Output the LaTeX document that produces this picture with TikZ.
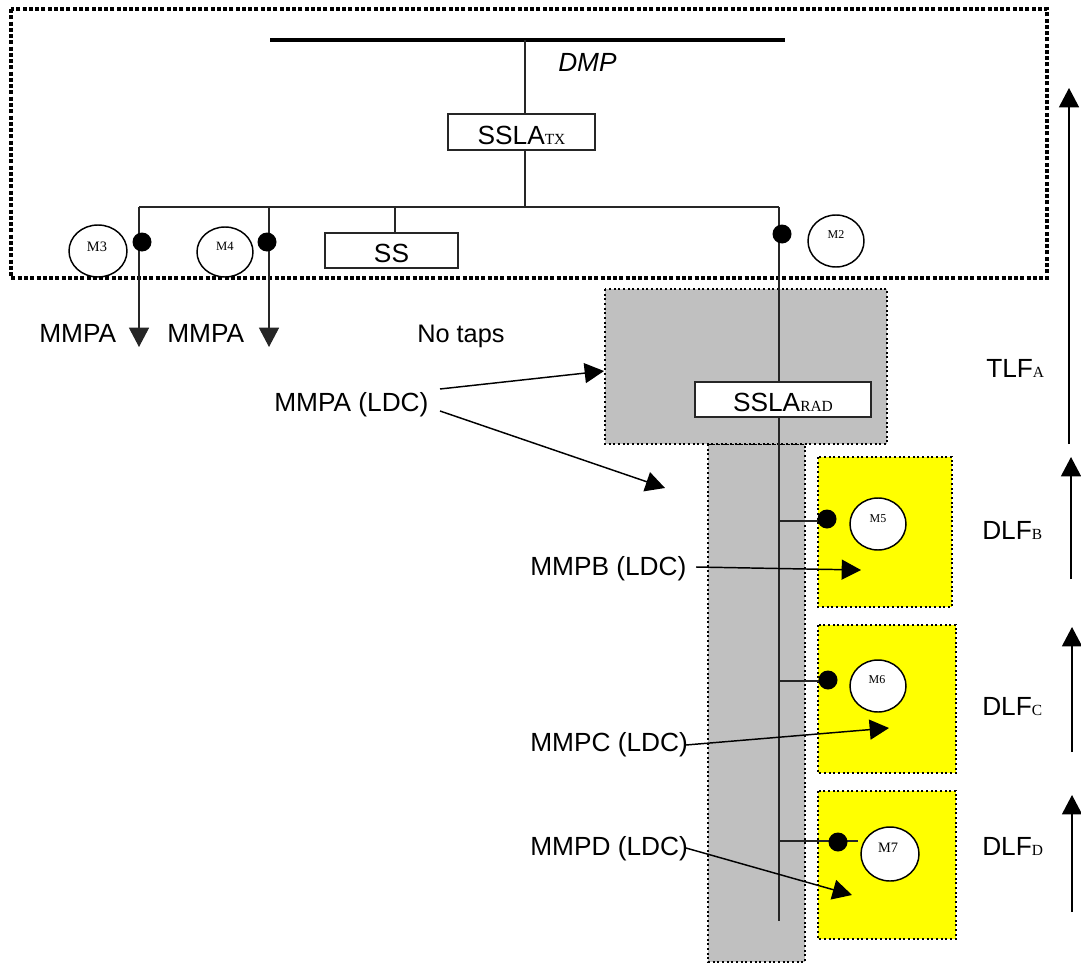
\documentclass[tikz,border=0pt]{standalone}
\usepackage{fontspec}
\setmainfont{Liberation Sans}
\newfontfamily\tmsfont{Liberation Serif}
\usetikzlibrary{arrows.meta,shapes.geometric}
\definecolor{zoneyellow}{RGB}{255,255,0}
\definecolor{zonegrey}{RGB}{192,192,192}
\newcommand{\subf}[1]{{\tmsfont\fontsize{11.6pt}{12pt}\selectfont #1}}
\tikzset{
  x=0.75pt,y=-0.75pt,
  txt/.style={anchor=base west,inner sep=0pt,font=\fontsize{19.7pt}{20pt}\selectfont},
  mtxt/.style={anchor=base,inner sep=0pt,font=\tmsfont\fontsize{#1}{12pt}\selectfont},
  mtxt/.default={9.5pt},
  conn/.style={draw=black!85,line width=1.1pt},
  flow/.style={draw=black,line width=1.1pt,-{Triangle[length=14.5pt,width=15pt]}},
  wbox/.style={draw=black!85,fill=white,line width=1.1pt,inner sep=0pt,align=center,font=\fontsize{19.7pt}{20pt}\selectfont},
  mcirc/.style={ellipse,draw=black,fill=white,line width=1.1pt,inner sep=0pt},
  tap/.style={circle,fill=black,inner sep=0pt,minimum size=14.25pt},
  zone/.style={draw=black,line width=1.9pt,dash pattern=on 1.6pt off 1.9pt},
  greyzone/.style={zone,fill=zonegrey},
  yelzone/.style={zone,fill=zoneyellow},
}
\begin{document}
\begin{tikzpicture}
\useasboundingbox (0,0) rectangle (1081,963);
% named points
\coordinate (dmpL) at (270,40); \coordinate (dmpR) at (785,40); \coordinate (dmpT) at (525,40);
\coordinate (busL) at (139,207); \coordinate (busM4) at (269,207); \coordinate (busSS) at (395,207);
\coordinate (busT) at (525,207); \coordinate (busR) at (779,207);
\coordinate (endM3) at (139,347); \coordinate (endM4) at (269,347); \coordinate (busEnd) at (779,921);
\coordinate (j5) at (779,521); \coordinate (j6) at (779,681); \coordinate (j7) at (779,841);
\coordinate (e7) at (858,841);
% zones
\path[greyzone] (708,444) rectangle (805,962);
\path[greyzone] (605,289) rectangle (887,444);
\path[yelzone] (818,457) rectangle (952,607);
\path[yelzone] (818,625) rectangle (956,773);
\path[yelzone] (818,791) rectangle (956,939);
\draw[black,line width=3pt,dash pattern=on 3pt off 1.7pt] (11,9) rectangle (1047,278);
% boxes
\node[wbox,minimum width=110.25pt,minimum height=27pt,text width=110.25pt,text height=23.25pt,text depth=3.75pt] (tx) at (521.5,132) {SSLA\subf{TX}};
\node[wbox,minimum width=99.75pt,minimum height=26.25pt,text width=99.75pt,text height=21.75pt,text depth=4.5pt] (ss) at (391.5,250.5) {SS};
\node[wbox,minimum width=132pt,minimum height=26.25pt,text width=132pt,text height=21.75pt,text depth=4.5pt] (rad) at (783,399.5) {SSLA\subf{RAD}};
% lines
\draw[black,line width=2.7pt] (dmpL) -- (dmpR);
\draw[conn] (dmpT) -- (dmpT |- tx.north);
\draw[conn] (busT |- tx.south) -- (busT);
\draw[conn] (busL) -- (busR);
\draw[conn] (busSS) -- (busSS |- ss.north);
\draw[conn] (busR) -- (busR |- rad.north);
\draw[conn] (busR |- rad.south) -- (busEnd);
\draw[conn] (j5) -- (827,521);
\draw[conn] (j6) -- (828,681);
\draw[conn] (j7) -- (e7);
\draw[conn,-{Triangle[length=14.5pt,width=15pt]}] (busL) -- (endM3);
\draw[conn,-{Triangle[length=14.5pt,width=15pt]}] (busM4) -- (endM4);
% taps
\node[tap] (t3) at (142,242) {};
\node[tap] (t4) at (267,242) {};
\node[tap] (t2) at (782,234) {};
\node[tap] (t5) at (827,519) {};
\node[tap] (t6) at (828,680) {};
\node[tap] (t7) at (838,842) {};
% modules
\node[mcirc,minimum width=43.5pt,minimum height=39pt] (m3) at (98,251) {};
\node[mcirc,minimum width=42pt,minimum height=37.5pt] (m4) at (225,252) {};
\node[mcirc,minimum width=42pt,minimum height=39pt] (m2) at (836,241) {};
\node[mcirc,minimum width=42pt,minimum height=39pt] (m5) at (878,524) {};
\node[mcirc,minimum width=42pt,minimum height=39pt] (m6) at (878,686) {};
\node[mcirc,minimum width=43.5pt,minimum height=40.5pt] (m7) at (890,854) {};
\node[mtxt=10.8pt] (l3) at (97,251) {M3};
\node[mtxt=9.5pt] (l4) at (225,250) {M4};
\node[mtxt=9pt] (l2) at (836,238) {M2};
\node[mtxt=9pt] (l5) at (878,522) {M5};
\node[mtxt=9pt] (l6) at (877,683) {M6};
\node[mtxt=10.8pt] (l7) at (888,852) {M7};
% labels
\node[txt,font=\itshape\fontsize{19.7pt}{20pt}\selectfont] (dmp) at (558,72) {DMP};
\node[txt] (a1) at (39,342) {MMPA};
\node[txt] (a2) at (167,342) {MMPA};
\node[txt,font=\fontsize{19pt}{20pt}\selectfont] (nt) at (417,342) {No taps};
\node[txt] (la) at (274,411) {MMPA (LDC)};
\node[txt] (lb) at (530,575) {MMPB (LDC)};
\node[txt] (lc) at (530,751) {MMPC (LDC)};
\node[txt] (ld) at (530,855) {MMPD (LDC)};
\node[txt] (tlf) at (986,377) {TLF\subf{A}};
\node[txt] (dlb) at (982,539) {DLF\subf{B}};
\node[txt] (dlc) at (982,715) {DLF\subf{C}};
\node[txt] (dld) at (982,855) {DLF\subf{D}};
% pointers
\coordinate (pa1) at (440,389); \coordinate (pa1e) at (604,371);
\coordinate (pa2) at (440,411); \coordinate (pa2e) at (665,488);
\coordinate (pb) at (696,567); \coordinate (pbe) at (861,570);
\coordinate (pc) at (686,745); \coordinate (pce) at (889,728);
\coordinate (pd) at (686,848); \coordinate (pde) at (852,895);
\draw[flow] (pa1) -- (pa1e);
\draw[flow] (pa2) -- (pa2e);
\draw[flow] (pb) -- (pbe);
\draw[flow] (pc) -- (pce);
\draw[flow] (pd) -- (pde);
% level arrows
\coordinate (ra0) at (1069,444); \coordinate (ra1) at (1069,88);
\coordinate (rb0) at (1071,579); \coordinate (rb1) at (1071,457);
\coordinate (rc0) at (1072,752); \coordinate (rc1) at (1072,627);
\coordinate (rd0) at (1072,912); \coordinate (rd1) at (1072,795);
\draw[flow] (ra0) -- (ra1);
\draw[flow] (rb0) -- (rb1);
\draw[flow] (rc0) -- (rc1);
\draw[flow] (rd0) -- (rd1);
\end{tikzpicture}
\end{document}
